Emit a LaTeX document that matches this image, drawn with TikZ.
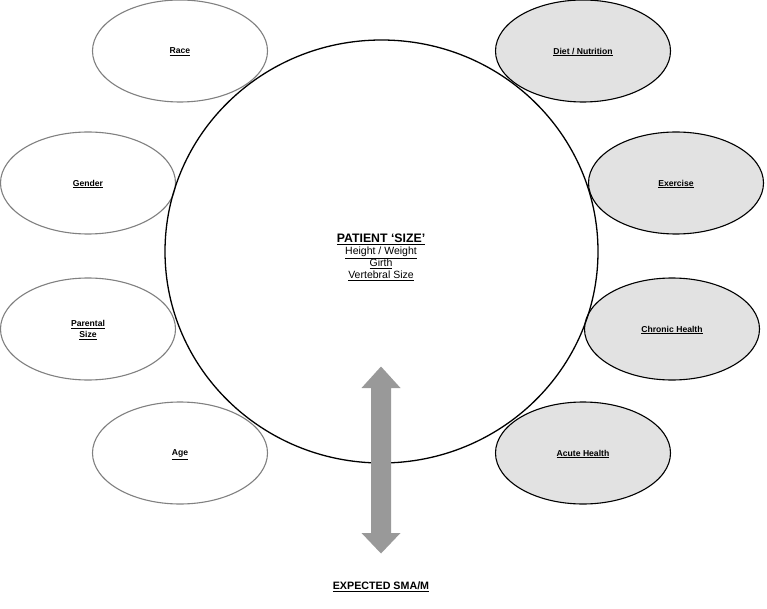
\documentclass[tikz,border=0pt]{standalone}
\usepackage{fontspec}
\setmainfont{Liberation Sans}
\usetikzlibrary{shapes.geometric}
\definecolor{lgray}{HTML}{E2E2E2}
\definecolor{egray}{HTML}{808080}
\definecolor{agray}{HTML}{999999}
\tikzset{
  leftell/.style={ellipse, draw=egray, line width=1.1pt, fill=white, inner sep=0pt, text depth=0pt,
    minimum width=175pt, minimum height=102pt, font=\fontsize{8.6}{12}\selectfont\bfseries, align=center},
  rightell/.style={ellipse, draw=black, line width=1.1pt, fill=lgray, inner sep=0pt, text depth=0pt,
    minimum width=175pt, minimum height=102pt, font=\fontsize{8.6}{12}\selectfont\bfseries, align=center},
}
\begin{document}
\begin{tikzpicture}[x=1pt,y=-1pt]
\useasboundingbox (0,0) rectangle (767,609);
% left ellipses
\node[leftell] (race) at (180,51) {\underline{Race}};
\node[leftell] (gender) at (88,183) {\underline{Gender}};
\node[leftell] (parental) at (88,329) {\underline{Parental}\\[-1pt]\underline{Size}};
\node[leftell] (age) at (180,453) {\underline{Age}};
% right ellipses
\node[rightell] (diet) at (583,51) {\underline{Diet / Nutrition}};
\node[rightell] (exercise) at (676,183) {\underline{Exercise}};
\node[rightell] (chronic) at (672,329) {\underline{Chronic Health}};
\node[rightell] (acute) at (583,453) {\underline{Acute Health}};
% big circle
\node[ellipse, draw=black, line width=1.3pt, minimum width=433pt, minimum height=423pt, inner sep=0pt] (size) at (381.5,251.5) {};
\node[align=center, font=\fontsize{10.5}{12}\selectfont] (sizetext) at (381,257)
  {{\fontsize{12.3}{12}\selectfont\bfseries\underline{PATIENT ‘SIZE’}}\\\underline{Height / Weight}\\\underline{Girth}\\\underline{Vertebral Size}};
% double arrow
\fill[agray] (381,366.5) -- (400.5,388) -- (391,388) -- (391,533) -- (400.5,533) -- (381,553.5)
  -- (361.5,533) -- (371,533) -- (371,388) -- (361.5,388) -- cycle;
\node[font=\fontsize{10.7}{12}\selectfont\bfseries, text depth=0pt] (sma) at (381,586) {\underline{EXPECTED SMA/M}};
\end{tikzpicture}
\end{document}
